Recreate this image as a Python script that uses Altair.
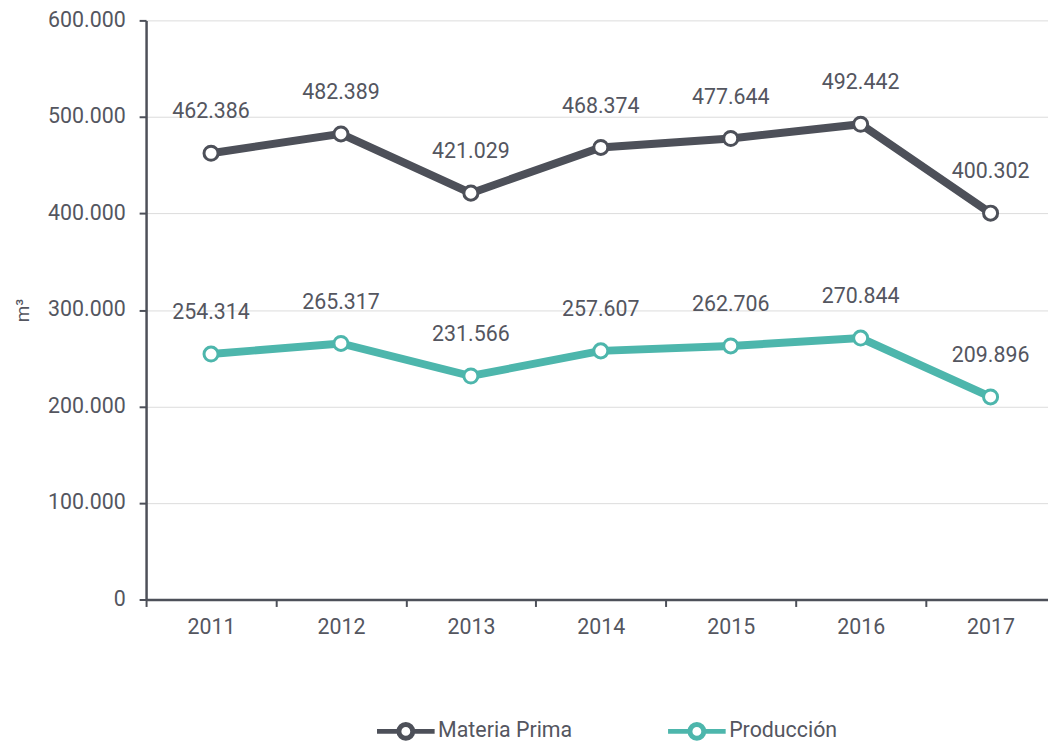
import altair as alt
import pandas as pd

years = ["2011", "2012", "2013", "2014", "2015", "2016", "2017"]
materia_prima = [462386, 482389, 421029, 468374, 477644, 492442, 400302]
produccion = [254314, 265317, 231566, 257607, 262706, 270844, 209896]
series_names = ["Materia Prima", "Producción"]
series_colors = ["#4d5059", "#4db6ac"]

rows = []
for i, (y, v) in enumerate(zip(years, materia_prima)):
    rows.append({"idx": i, "year": y, "value": v, "serie": series_names[0]})
for i, (y, v) in enumerate(zip(years, produccion)):
    rows.append({"idx": i, "year": y, "value": v, "serie": series_names[1]})
df = pd.DataFrame(rows)

TXT = "#54565f"
FONT = "Roboto"
FS = 21.5
HALF_STEP = 65.4  # pixels between a category centre and its band edge

legend_path = ("M-1,0L-0.24,0M0.24,0L1,0"
               "M0.24,0A0.24,0.24 0 1,1 -0.24,0A0.24,0.24 0 1,1 0.24,0")

year_lookup = "[" + ",".join("'%s'" % y for y in years) + "][datum.value]"

x_enc = alt.X(
    "idx:Q",
    scale=alt.Scale(domain=[-0.5, 6.442], nice=False, zero=False),
    axis=alt.Axis(
        title=None,
        values=list(range(len(years))),
        labelExpr=year_lookup,
        labelAngle=0,
        labelFontSize=FS,
        labelColor=TXT,
        labelFont=FONT,
        labelPadding=10,
        tickOffset=-HALF_STEP,
        labelOffset=HALF_STEP,
        tickSize=7,
        tickWidth=2,
        tickColor="#4d5059",
        domainColor="#4d5059",
        domainWidth=2.5,
        grid=False,
    ),
)
y_enc = alt.Y(
    "value:Q",
    scale=alt.Scale(domain=[0, 600000], nice=False),
    axis=alt.Axis(
        title="m³",
        titleFontSize=19,
        titleFontWeight="normal",
        titleColor=TXT,
        titleFont=FONT,
        titlePadding=15,
        values=[0, 100000, 200000, 300000, 400000, 500000, 600000],
        format=",d",
        labelFontSize=FS,
        labelColor=TXT,
        labelFont=FONT,
        labelPadding=14,
        tickSize=7,
        tickWidth=2,
        tickColor="#4d5059",
        domainColor="#4d5059",
        domainWidth=2.5,
        gridColor="#dcdcdc",
        gridWidth=1,
    ),
)
color_enc = alt.Color(
    "serie:N",
    sort=series_names,
    scale=alt.Scale(domain=series_names, range=series_colors),
    legend=alt.Legend(
        title=None,
        orient="none",
        direction="horizontal",
        legendX=230,
        legendY=684,
        padding=0,
        symbolType=legend_path,
        symbolSize=3364,
        symbolStrokeWidth=5,
        symbolFillColor="white",
        symbolOpacity=1,
        labelFontSize=FS,
        labelColor=TXT,
        labelFont=FONT,
        labelOffset=1,
        columnPadding=85,
    ),
)

base = alt.Chart(df)

lines = base.mark_line(strokeWidth=8).encode(
    x=x_enc, y=y_enc, color=color_enc, detail="serie:N"
)
points = base.mark_point(
    filled=True, fill="white", size=200, strokeWidth=3, opacity=1
).encode(
    x="idx:Q",
    y="value:Q",
    stroke=alt.Stroke("serie:N", sort=series_names,
                      scale=alt.Scale(domain=series_names, range=series_colors),
                      legend=None),
)
labels = base.mark_text(
    dy=-41, fontSize=FS, font=FONT, color=TXT
).encode(
    x="idx:Q",
    y="value:Q",
    text=alt.Text("value:Q", format=",d"),
)

chart = (
    alt.layer(lines, points, labels)
    .properties(
        width=908,
        height=583,
        autosize=alt.AutoSizeParams(type="none"),
        padding={"left": 139, "top": 10, "right": 0, "bottom": 145},
    )
    .configure(
        locale={"number": {"decimal": ",", "thousands": ".", "grouping": [3],
                           "currency": ["", " €"]}},
        font=FONT,
    )
    .configure_view(stroke=None)
)

chart.save("out.html", embed_options={"renderer": "svg", "actions": False})
